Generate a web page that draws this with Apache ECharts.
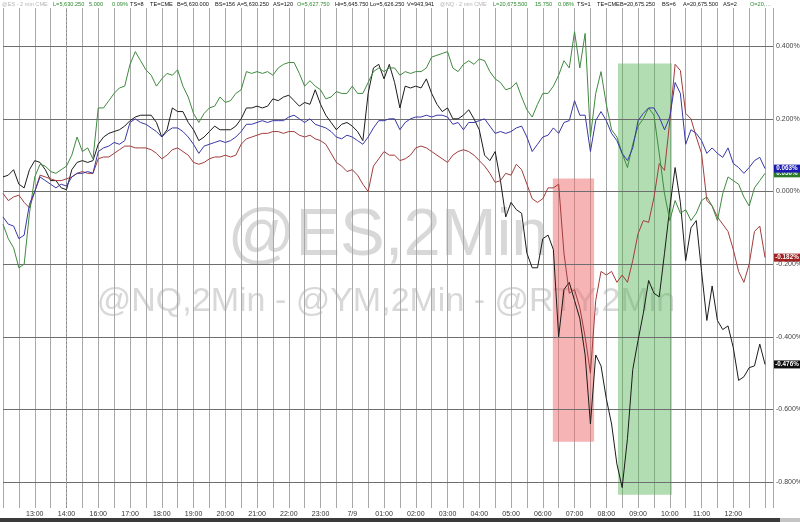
<!DOCTYPE html>
<html>
<head>
<meta charset="utf-8">
<script src="https://cdn.jsdelivr.net/npm/echarts@6/dist/echarts.min.js"></script>
<style>
html,body{margin:0;padding:0;background:#fff;}
#chart{width:800px;height:522px;}
</style>
</head>
<body>
<div id="chart"></div>
<script>
// ---- data (10-minute samples, index 0 = 12:00, session break after 14:50, index 18 = 16:00) ----
const esBlue = [-0.07,-0.09,-0.095,-0.13,-0.12,-0.035,0.0,0.04,0.03,0.02,0.01,0.02,0.015,0.04,0.05,0.05,0.055,0.05,
0.11,0.12,0.125,0.135,0.13,0.14,0.19,0.2,0.19,0.185,0.175,0.165,0.15,0.165,0.175,0.175,0.165,0.15,0.13,
0.105,0.125,0.13,0.135,0.14,0.135,0.14,0.15,0.165,0.185,0.185,0.19,0.195,0.19,0.195,0.195,0.195,0.205,0.21,0.2,0.19,0.2,0.185,0.18,0.175,0.165,0.15,0.145,0.155,0.15,0.14,0.13,0.15,0.175,0.195,0.195,0.2,
0.2,0.17,0.19,0.2,0.205,0.205,0.21,0.205,0.21,0.21,0.205,0.185,0.19,0.17,0.19,0.19,0.195,0.2,0.18,0.16,0.165,0.16,0.165,0.175,0.18,0.15,0.11,0.13,0.15,0.155,0.175,0.16,0.19,0.195,0.25,0.21,0.21,
0.11,0.195,0.22,0.195,0.16,0.14,0.105,0.085,0.12,0.195,0.215,0.23,0.23,0.205,0.17,0.205,0.30,0.27,0.13,0.17,0.16,0.14,0.105,0.12,0.105,0.094,0.12,0.077,0.066,0.05,0.066,0.085,0.094,0.063];

const nqGreen = [-0.09,-0.13,-0.155,-0.21,-0.2,-0.06,0.04,0.075,0.07,0.055,0.05,0.06,0.07,0.1,0.15,0.11,0.12,0.09,
0.23,0.23,0.25,0.27,0.285,0.29,0.35,0.385,0.36,0.335,0.32,0.29,0.31,0.325,0.32,0.335,0.29,0.26,0.215,
0.19,0.215,0.23,0.235,0.26,0.245,0.25,0.27,0.28,0.33,0.325,0.33,0.325,0.33,0.32,0.34,0.35,0.355,0.355,0.325,0.29,0.305,0.29,0.28,0.255,0.26,0.275,0.27,0.27,0.29,0.27,0.27,0.30,0.33,0.34,0.33,0.34,
0.34,0.32,0.33,0.325,0.33,0.33,0.34,0.37,0.375,0.38,0.385,0.34,0.33,0.35,0.36,0.35,0.365,0.36,0.33,0.31,0.30,0.28,0.285,0.30,0.26,0.225,0.205,0.24,0.27,0.27,0.29,0.32,0.36,0.34,0.44,0.34,0.435,
0.15,0.27,0.33,0.24,0.17,0.15,0.105,0.066,0.13,0.18,0.2,0.23,0.21,0.105,-0.006,-0.08,-0.025,-0.06,-0.05,-0.08,-0.06,-0.025,-0.015,-0.04,-0.08,-0.006,0.04,0.03,0.02,-0.015,-0.04,0.01,0.03,0.05];

const ymRed = [-0.005,-0.025,-0.015,-0.01,-0.03,-0.045,0.0,0.045,0.04,0.035,0.03,0.03,0.035,0.04,0.05,0.055,0.05,0.05,
0.09,0.095,0.095,0.105,0.115,0.125,0.125,0.12,0.12,0.12,0.115,0.105,0.09,0.1,0.115,0.12,0.11,0.1,0.08,
0.075,0.08,0.09,0.095,0.095,0.1,0.095,0.1,0.13,0.145,0.15,0.155,0.16,0.16,0.165,0.165,0.16,0.165,0.165,0.155,0.15,0.155,0.145,0.14,0.13,0.105,0.08,0.07,0.055,0.06,0.045,0.02,0.0,0.07,0.09,0.11,0.1,
0.10,0.085,0.09,0.10,0.12,0.125,0.12,0.11,0.10,0.09,0.08,0.10,0.11,0.115,0.11,0.10,0.085,0.07,0.05,0.025,0.03,0.05,0.045,0.075,0.06,0.02,-0.02,-0.03,-0.02,0.01,0.01,0.02,-0.17,-0.28,-0.27,-0.32,-0.4,
-0.5,-0.3,-0.22,-0.23,-0.22,-0.25,-0.23,-0.25,-0.19,-0.116,-0.08,-0.085,-0.017,0.077,0.058,0.195,0.35,0.333,0.215,0.2,0.15,0.105,-0.025,-0.04,-0.07,-0.09,-0.11,-0.16,-0.22,-0.25,-0.2,-0.11,-0.095,-0.182];

const rtyBlack = [0.04,0.045,0.06,0.02,0.01,0.06,0.085,0.08,0.06,0.03,0.03,0.01,0.005,0.06,0.08,0.085,0.08,0.085,
0.13,0.15,0.16,0.165,0.17,0.18,0.195,0.205,0.21,0.21,0.21,0.19,0.15,0.17,0.23,0.22,0.22,0.19,0.17,
0.14,0.15,0.165,0.18,0.17,0.17,0.17,0.18,0.20,0.23,0.23,0.235,0.23,0.235,0.255,0.25,0.26,0.265,0.25,0.235,0.245,0.24,0.28,0.24,0.21,0.19,0.17,0.185,0.19,0.18,0.165,0.14,0.27,0.34,0.35,0.31,0.35,
0.30,0.23,0.29,0.285,0.29,0.285,0.31,0.27,0.24,0.22,0.23,0.20,0.20,0.21,0.225,0.20,0.17,0.10,0.085,0.11,0.03,-0.07,-0.03,-0.05,-0.06,-0.17,-0.21,-0.21,-0.13,-0.12,-0.16,-0.40,-0.27,-0.25,-0.30,-0.35,-0.45,
-0.64,-0.45,-0.48,-0.57,-0.64,-0.75,-0.815,-0.68,-0.49,-0.41,-0.335,-0.245,-0.28,-0.29,-0.17,-0.044,0.066,-0.03,-0.19,-0.1,-0.08,-0.22,-0.355,-0.26,-0.355,-0.38,-0.37,-0.43,-0.52,-0.51,-0.485,-0.48,-0.42,-0.476];

// x tick labels (sample index of each hour)
const tickIndex  = [6,12,18,24,30,36,42,48,54,60,66,72,78,84,90,96,102,108,114,120,126,132,138];
const tickLabels = ['13:00','14:00','16:00','17:00','18:00','19:00','20:00','21:00','22:00','23:00','7/9','01:00','02:00','03:00','04:00','05:00','06:00','07:00','08:00','09:00','10:00','11:00','12:00'];
const sessionBreakIndex = 12;

// y tick labels
const yTicks = [0.4,0.2,0,-0.2,-0.4,-0.6,-0.8];
const yTickLabels = ['0.400%','0.200%','0.000%','-0.200%','-0.400%','-0.600%','-0.800%'];

// last-value tags
const endValues = [0.05, 0.063, -0.182, -0.476];
const endTexts  = ['0.050%','0.063%','-0.182%','-0.476%'];

// highlighted periods [startIndex, endIndex, topValue, bottomValue]
const redZone   = [103.9, 111.7, 0.036, -0.689];
const greenZone = [116.2, 126.4, 0.352, -0.835];

const X_MAX = 145.5;
const Y_MIN = -0.8712, Y_MAX = 0.5051;

const toPairs = arr => arr.map((v, i) => [i, v]);

const header = [
  ['@ES - 2 min CME', 2, '#b5b5b5'], ['L=5,630.250', 53, '#2f8a2f'], ['5.000', 89, '#2f8a2f'], ['0.09%', 112, '#2f8a2f'],
  ['TS=8', 130, '#111'], ['TE=CME', 150, '#111'], ['B=5,630.000', 177, '#111'], ['BS=156', 215, '#111'],
  ['A=5,630.250', 237, '#111'], ['AS=120', 273, '#111'], ['O=5,627.750', 297, '#2f8a2f'], ['Hi=5,645.750', 335, '#111'],
  ['Lo=5,626.250', 370, '#111'], ['V=943,941', 407, '#111'], ['@NQ - 2 min CME', 440, '#b5b5b5'], ['L=20,675.500', 493, '#2f8a2f'],
  ['15.750', 535, '#2f8a2f'], ['0.08%', 558, '#2f8a2f'], ['TS=1', 577, '#111'], ['TE=CME', 597, '#111'],
  ['B=20,675.250', 620, '#111'], ['BS=6', 662, '#111'], ['A=20,675.500', 683, '#111'], ['AS=2', 723, '#111'],
  ['O=20,…', 750, '#2f8a2f']
];

const FONT = 'Liberation Sans, Arial, sans-serif';

const graphics = [
  {type:'text', z:-1, silent:true, style:{text:'@ES,2Min', x:388, y:237, align:'center', verticalAlign:'middle', fontSize:67, fontFamily:FONT, fill:'#d8d8d8'}},
  {type:'text', z:-1, silent:true, style:{text:'@NQ,2Min - @YM,2Min - @RTY,2Min', x:386, y:302, align:'center', verticalAlign:'middle', fontSize:34, fontFamily:FONT, fill:'#d8d8d8'}},
  {type:'rect', z:50, silent:true, shape:{x:0, y:518, width:780, height:4}, style:{fill:'#3a3a3a'}},
  {type:'rect', z:50, silent:true, shape:{x:780, y:518, width:20, height:4}, style:{fill:'#c4c4c4'}}
].concat(header.map(h => ({type:'text', z:50, silent:true, style:{text:h[0], x:h[1], y:4, verticalAlign:'middle', fontSize:5.6, fontFamily:FONT, fill:h[2]}})));

function endTag(k, color, z){
  return {
    z: z, silent: true, symbol: 'rect', symbolSize: [26, 8], symbolOffset: [14, 0],
    label: {show: true, position: 'inside', color: '#fff', fontSize: 6.3, fontFamily: FONT, fontWeight: 'bold', formatter: endTexts[k]},
    itemStyle: {color: color},
    data: [{coord: [X_MAX, endValues[k]]}]
  };
}

const lineBase = {type:'line', showSymbol:false, symbol:'none', silent:true, z:2, clip:true};

const option = {
  animation: false,
  backgroundColor: '#ffffff',
  grid: {left: -1, right: 27, top: 8, bottom: 14, containLabel: false},
  graphic: graphics,
  xAxis: {
    type: 'value', min: 0, max: X_MAX, interval: 3,
    axisLine: {show: false}, axisTick: {show: false},
    splitLine: {show: true, lineStyle: {color: '#a8a8a8', width: 1}},
    axisLabel: {
      fontSize: 7, color: '#333', margin: 3, fontFamily: FONT,
      showMinLabel: true, showMaxLabel: true,
      formatter: v => { const k = tickIndex.indexOf(v); return k >= 0 ? tickLabels[k] : ''; }
    }
  },
  yAxis: {type: 'value', min: Y_MIN, max: Y_MAX, show: false},
  series: [
    {
      type: 'line', data: [], silent: true, z: 1,
      markArea: {
        silent: true,
        data: [
          [{coord: [redZone[0], redZone[2]], itemStyle: {color: 'rgba(238,105,105,0.5)'}}, {coord: [redZone[1], redZone[3]]}],
          [{coord: [greenZone[0], greenZone[2]], itemStyle: {color: 'rgba(85,180,85,0.45)'}}, {coord: [greenZone[1], greenZone[3]]}]
        ]
      },
      markLine: {
        silent: true, z: 1, symbol: ['none', 'none'], animation: false,
        data: yTicks.map((v, k) => ({
          yAxis: v,
          lineStyle: {color: '#6e6e6e', width: 1, type: 'solid'},
          label: {show: true, position: 'end', distance: 3, formatter: yTickLabels[k], fontSize: 7, color: '#444', fontFamily: FONT}
        })).concat([{
          xAxis: sessionBreakIndex,
          lineStyle: {color: '#8a8a8a', width: 1, type: [2, 2]},
          label: {show: false}
        }])
      }
    },
    Object.assign({}, lineBase, {name: 'RTY', data: toPairs(rtyBlack), lineStyle: {color: '#1c1c1c', width: 1}, markPoint: endTag(3, '#111111', 6)}),
    Object.assign({}, lineBase, {name: 'YM', data: toPairs(ymRed), lineStyle: {color: '#a23c3c', width: 1}, markPoint: endTag(2, '#a02222', 6)}),
    Object.assign({}, lineBase, {name: 'NQ', data: toPairs(nqGreen), lineStyle: {color: '#3f8a3f', width: 1}, markPoint: endTag(0, '#2a7a2a', 6)}),
    Object.assign({}, lineBase, {name: 'ES', data: toPairs(esBlue), lineStyle: {color: '#3838a6', width: 1}, markPoint: endTag(1, '#1a1ab0', 7)})
  ]
};

const chart = echarts.init(document.getElementById('chart'), null, {renderer: 'canvas'});
chart.setOption(option);
</script>
</body>
</html>
